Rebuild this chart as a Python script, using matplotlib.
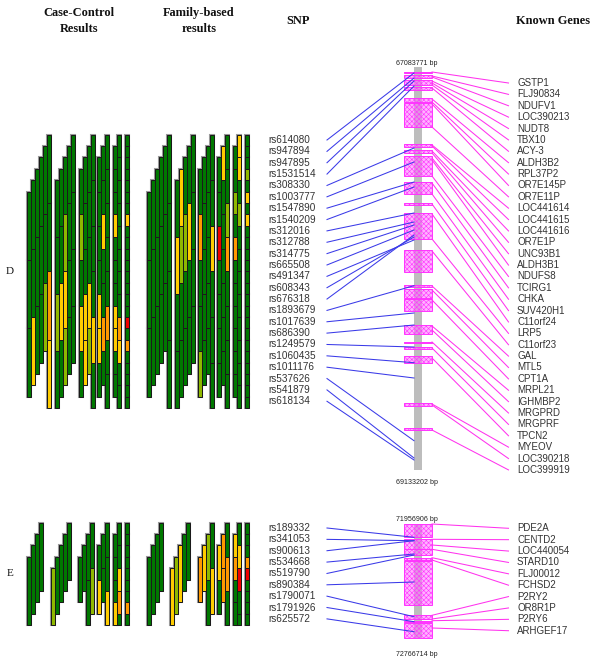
import matplotlib
matplotlib.use("Agg")
import matplotlib.pyplot as plt
from matplotlib.patches import Rectangle

# ---------- data ----------
snps_d = ["rs614080","rs947894","rs947895","rs1531514","rs308330","rs1003777","rs1547890","rs1540209",
          "rs312016","rs312788","rs314775","rs665508","rs491347","rs608343","rs676318","rs1893679",
          "rs1017639","rs686390","rs1249579","rs1060435","rs1011176","rs537626","rs541879","rs618134"]
snps_e = ["rs189332","rs341053","rs900613","rs534668","rs519790","rs890384","rs1790071","rs1791926","rs625572"]
genes_d = ["GSTP1","FLJ90834","NDUFV1","LOC390213","NUDT8","TBX10","ACY-3","ALDH3B2","RPL37P2","OR7E145P",
           "OR7E11P","LOC441614","LOC441615","LOC441616","OR7E1P","UNC93B1","ALDH3B1","NDUFS8","TCIRG1",
           "CHKA","SUV420H1","C11orf24","LRP5","C11orf23","GAL","MTL5","CPT1A","MRPL21","IGHMBP2",
           "MRGPRD","MRGPRF","TPCN2","MYEOV","LOC390218","LOC399919"]
genes_e = ["PDE2A","CENTD2","LOC440054","STARD10","FLJ00012","FCHSD2","P2RY2","OR8R1P","P2RY6","ARHGEF17"]

windows = [6, 5, 4, 3, 2, 1]
# each string: one column, one letter per window along the column
case_d = [["GGG","GGY","GGG","GGG","GGL","GGOY"],
          ["GGLG","GGYG","GLYL","GGGG","GGGG"],
          ["GLGYG","GGGYY","GGGYL","GGGGYG"],
          ["GGGGYYG","GGYGGOG","GGGGGOGG"],
          ["GGGYGGGYYGG","GGGGGGGGOYGG"],
          ["GGGGGGGYGGGGGGGGRGOGGGGG"]]
fam_d = [["GGG","GGG","GGG","GGG","GGG","GGGG"],
         ["GYGG","YLGG","GLGG","GYGG","GGGG"],
         ["GOGGL","GGGGG","GGGGG","GGYGGG"],
         ["GGRGGGG","YGGGGGG","GGLOGGGG"],
         ["GGLGOGGGGGG","YYGLGGGGGGGG"],
         ["GGGLGYGYGGGGGGGGGGGGGGGG"]]
case_e = [["G","G","G","G"],
          ["L","G","G","G","G"],
          ["G","G","GG","GL"],
          ["GY","GG","GGY"],
          ["GGGY","GGYOG"],
          ["GGGGGGGOG"]]
fam_e = [["G","G","G","G"],
         ["Y","L","Y","G","G"],
         ["O","Y","LG","GY"],
         ["YG","OO","GOG"],
         ["YOGG","GYRGG"],
         ["GGGORGGGG"]]

# gene boxes on the chromosome track (top, bottom)
boxes_d = [(71.7,73.2),(75.3,78),(80,85),(86.7,90),(98,102),(103.3,127.3),(143.7,147),(150,153),(156,176),
           (182,194.3),(203.3,205.3),(213,239.3),(250,272),(285.3,286.7),(289.3,298),(299.3,310.7),
           (325,334.3),(341.5,342.5),(347,348.7),(356,362.7),(403.3,405.7),(428.3,430.3)]
boxes_e = [(524,537.3),(539.3,549.3),(549.3,554.7),(557.7,560),(560.7,604.7),(615.3,619),(620.7,622),(622.7,638)]
gene_pos_d = [72,76,77,81,83,85,88,99,102,104,127,145,146,151,153,158,160,176,183,194,204,214,239,251,
              286,290,300,326,330,342,348,358,404,405,430]
gene_pos_e = [524,539.3,545,549.3,557.7,560,615.3,619,620.7,628]
snp_pos_d = [73,78,81,86,148,162,182,187,213,222,225,230,240,237,235,285.7,313,325,347,362.7,378,440.7,458,460]
snp_pos_e = [537.3,540.7,540.7,554,555,582,616.7,621.7,631.7]

# ---------- layout ----------
plt.rcParams['font.family'] = ['Liberation Sans', 'DejaVu Sans']
plt.rcParams['hatch.linewidth'] = 0.4
fig = plt.figure(figsize=(6.0, 6.69), dpi=100)
ax = fig.add_axes([0, 0, 1, 1])
ax.set_xlim(0, 600); ax.set_ylim(669, 0); ax.axis('off')

COL = {"G": "#007800", "L": "#8fb800", "Y": "#ffcc00", "O": "#ff9900", "R": "#ee0000"}
PITCH_X, PITCH_Y = 4.0, 11.39
case_d_x0 = [29, 57, 81, 99, 115, 127]
fam_d_x0 = [149, 177, 200, 219, 235, 247]
case_e_x0 = [29, 53, 80, 99, 115, 127]
fam_e_x0 = [149, 172, 200, 219, 235, 247]


def heat(groups, x0s, y0, nrows):
    for w, cols, x0 in zip(windows, groups, x0s):
        n = len(cols)
        for j, col in enumerate(cols):
            x = x0 + j * PITCH_X
            start = n - 1 - j
            for i, c in enumerate(col):
                top = start + i * w
                bot = min(top + w, nrows)
                ax.add_patch(Rectangle((x - 2, y0 + top * PITCH_Y), 4, (bot - top) * PITCH_Y,
                                       fc="none", ec="#9a9a9a", lw=1.5, zorder=2.9))
                ax.add_patch(Rectangle((x - 2, y0 + top * PITCH_Y), 4, (bot - top) * PITCH_Y,
                                       fc=COL[c], ec="#1a1a1a", lw=0.72, zorder=3, snap=True))


heat(case_d, case_d_x0, 134.7, 24)
heat(fam_d, fam_d_x0, 134.7, 24)
heat(case_e, case_e_x0, 522.7, 9)
heat(fam_e, fam_e_x0, 522.7, 9)


def track(boxes, ytop, ybot, glabels, gpos, gy0, slabels, spos, sy0, ttop, tbot, ytt, ytb):
    ax.add_patch(Rectangle((414, ytop), 8, ybot - ytop, fc="#bdbdbd", ec="none", zorder=1))
    for a, b in boxes:
        ax.add_patch(Rectangle((404.3, a), 27.7, b - a, fc=(1, 0.45, 1, 0.55), ec="none", zorder=2))
        ax.add_patch(Rectangle((404.3, a), 27.7, b - a, fc="none", ec="#ff33ff", hatch="xxxxxxx", lw=0.7, zorder=2.1))
    for i, (g, p) in enumerate(zip(glabels, gpos)):
        y = gy0 + i * 11.38
        ax.plot([432, 508.5], [p, y], color="#ff33ee", lw=0.75, zorder=2.5)
        ax.text(517, y, g, fontsize=7.0, va="center", ha="left", color="#333333")
    for i, (s, p) in enumerate(zip(slabels, spos)):
        y = sy0 + i * 11.36
        ax.plot([327, 414], [y, p], color="#3a3ae8", lw=0.75, zorder=2.6)
        ax.text(268, y, s, fontsize=7.2, va="center", ha="left", color="#333333")
    ax.text(416.5, ytt, ttop, fontsize=5.1, ha="center", va="center", color="#222222")
    ax.text(416.5, ytb, tbot, fontsize=5.1, ha="center", va="center", color="#222222")


track(boxes_d, 67, 470, genes_d, gene_pos_d, 83, snps_d, snp_pos_d, 140,
      "67083771 bp", "69133202 bp", 63.5, 483)
track(boxes_e, 525, 638, genes_e, gene_pos_e, 528.3, snps_e, snp_pos_e, 528,
      "71956906 bp", "72766714 bp", 519.5, 655)

serif = dict(family=['Liberation Serif', 'DejaVu Serif'], color="#111111")
for x, y, t in [(79, 13, "Case-Control"), (79, 29, "Results"), (198.7, 13, "Family-based"), (198.7, 29, "results"),
                (298, 21, "SNP"), (553, 21, "Known Genes")]:
    ax.text(x, y, t, fontsize=8.9, fontweight="bold", ha="center", va="center", **serif)
ax.text(10, 271, "D", fontsize=8, ha="center", va="center", **serif)
ax.text(10, 573.5, "E", fontsize=8, ha="center", va="center", **serif)

fig.savefig("out.png", dpi=100, facecolor="white")
